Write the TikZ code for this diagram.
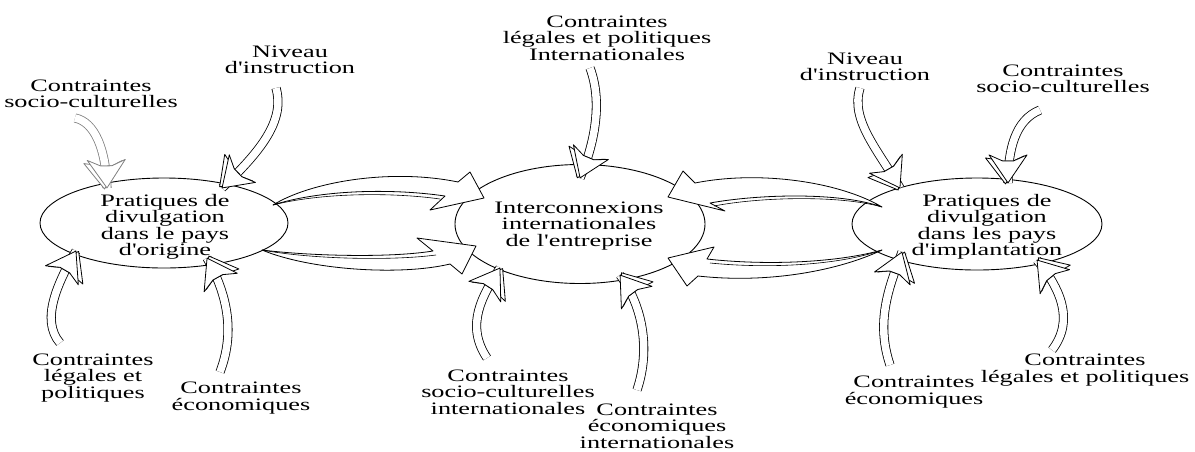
\documentclass[tikz,border=0pt]{standalone}
\usepackage{fontspec}
\setmainfont{Liberation Serif}[FakeStretch=1.5,Ligatures=TeXOff]
\usetikzlibrary{shapes.geometric,decorations.markings}
\newcommand\lblfont{\fontsize{17.5}{16.5}\selectfont}
\begin{document}
\begin{tikzpicture}[x=1pt,y=-1pt,line join=round,
  ell/.style={draw,ellipse,line width=0.9pt,inner sep=0pt},
  lbl/.style={align=center,inner sep=0pt,font=\lblfont},
  big/.style={draw,line width=0.8pt,fill=white},
  thin3d/.style={line width=0.6pt},
  sarrow/.style={draw=#1,line width=0.8pt,double=white,double distance=7.5pt,
    postaction={decorate,decoration={markings,mark=at position 0.999 with
      {\draw[draw=#1,line width=0.8pt,fill=white] (1,2.5) -- (-27,-16) -- (-22,-5.5) -- (-22,5.5) -- (-25,22.5) -- cycle;
       \draw[draw=#1,line width=0.8pt,fill=white] (0,0) -- (-28,-19) -- (-22,-5.5) -- (-22,5.5) -- (-28,19) -- cycle;}}}},
  sarrow/.default=black]
\useasboundingbox (0,0) rectangle (1195,451);

% ellipses
\node[ell,minimum width=248pt,minimum height=90pt] (L) at (164,223) {};
\node[ell,minimum width=250pt,minimum height=119pt] (C) at (580,224) {};
\node[ell,minimum width=250pt,minimum height=92pt] (R) at (977,224) {};

\node[lbl] (Lt) at (165,227) {Pratiques de\\divulgation\\dans le pays\\d'origine};
\node[lbl] (Ct) at (579,226) {Interconnexions\\internationales\\de l'entreprise};
\node[lbl] (Rt) at (987,227) {Pratiques de\\divulgation\\dans les pays\\d'implantation};

% outer labels
\node[lbl] (scl) at (91,94) {Contraintes\\socio-culturelles};
\node[lbl] (nil) at (290,60) {Niveau\\d'instruction};
\node[lbl] (clpi) at (607,38) {Contraintes\\l\'egales et politiques\\Internationales};
\node[lbl] (nir) at (865,67) {Niveau\\d'instruction};
\node[lbl] (scr) at (1063,79) {Contraintes\\socio-culturelles};
\node[lbl] (lpl) at (93,378) {Contraintes\\l\'egales et\\politiques};
\node[lbl] (el) at (241,398) {Contraintes\\\'economiques};
\node[lbl] (sci) at (508,392) {Contraintes\\socio-culturelles\\internationales};
\node[lbl] (ei) at (657,426) {Contraintes\\\'economiques\\internationales};
\node[lbl] (er) at (914,392) {Contraintes\\\'economiques};
\node[lbl] (lpr) at (1085,370) {Contraintes\\l\'egales et politiques};

% big arrows between ellipses
\coordinate (a1) at (273,205);
\coordinate (a2) at (262,250);
\coordinate (a3) at (882,207);
\coordinate (a4) at (882,250);
\draw[big] (a1) .. controls (310,182) and (390,168) .. (458,182) -- (470,172) -- (484,198) -- (430,210) -- (445,196) .. controls (390,188) and (320,190) .. (a1) -- cycle;
\draw[thin3d] (a1) .. controls (320,193) and (390,192) .. (440,199);
\draw[big] (a2) .. controls (310,270) and (400,276) .. (450,264) -- (462,274) -- (476,246) -- (417,238) -- (433,251) .. controls (390,258) and (310,256) .. (a2) -- cycle;
\draw[thin3d] (a2) .. controls (310,259) and (390,261) .. (436,255);
\draw[big] (a3) .. controls (840,182) and (760,170) .. (695,183) -- (683,171) -- (668,197) -- (725,211) -- (710,203) .. controls (760,194) and (840,192) .. (a3) -- cycle;
\draw[thin3d] (a3) .. controls (840,195) and (760,197) .. (714,206);
\draw[big] (a4) .. controls (840,270) and (770,284) .. (698,276) -- (687,286) -- (668,258) -- (714,247) -- (707,259) .. controls (770,266) and (840,262) .. (a4) -- cycle;
\draw[thin3d] (a4) .. controls (840,265) and (770,269) .. (710,263);

% small arrows from constraints to ellipses
\coordinate (t1) at (75,118);   \coordinate (h1) at (107,188);
\coordinate (t2) at (276,88);   \coordinate (h2) at (222,188);
\coordinate (t3) at (590,68);   \coordinate (h3) at (580,178);
\coordinate (t4) at (860,88);   \coordinate (h4) at (900,188);
\coordinate (t5) at (1040,110); \coordinate (h5) at (1008,183);
\coordinate (t6) at (60,343);   \coordinate (h6) at (76,251);
\coordinate (t7) at (220,372);  \coordinate (h7) at (207,258);
\coordinate (t8) at (487,358);  \coordinate (h8) at (500,268);
\coordinate (t9) at (637,390);  \coordinate (h9) at (620,275);
\coordinate (t10) at (890,365); \coordinate (h10) at (902,252);
\coordinate (t11) at (1052,350);\coordinate (h11) at (1037,260);

\draw[sarrow=gray] (t1) .. controls (95,122) and (106,150) .. (h1);
\draw[sarrow] (t2) .. controls (285,120) and (262,150) .. (h2);
\draw[sarrow] (t3) .. controls (602,100) and (596,140) .. (h3);
\draw[sarrow] (t4) .. controls (850,120) and (878,150) .. (h4);
\draw[sarrow] (t5) .. controls (1015,120) and (1008,150) .. (h5);
\draw[sarrow] (t6) .. controls (40,320) and (58,282) .. (h6);
\draw[sarrow] (t7) .. controls (236,330) and (226,292) .. (h7);
\draw[sarrow] (t8) .. controls (465,325) and (482,296) .. (h8);
\draw[sarrow] (t9) .. controls (652,345) and (640,302) .. (h9);
\draw[sarrow] (t10) .. controls (875,320) and (890,285) .. (h10);
\draw[sarrow] (t11) .. controls (1075,320) and (1060,288) .. (h11);
\end{tikzpicture}
\end{document}
